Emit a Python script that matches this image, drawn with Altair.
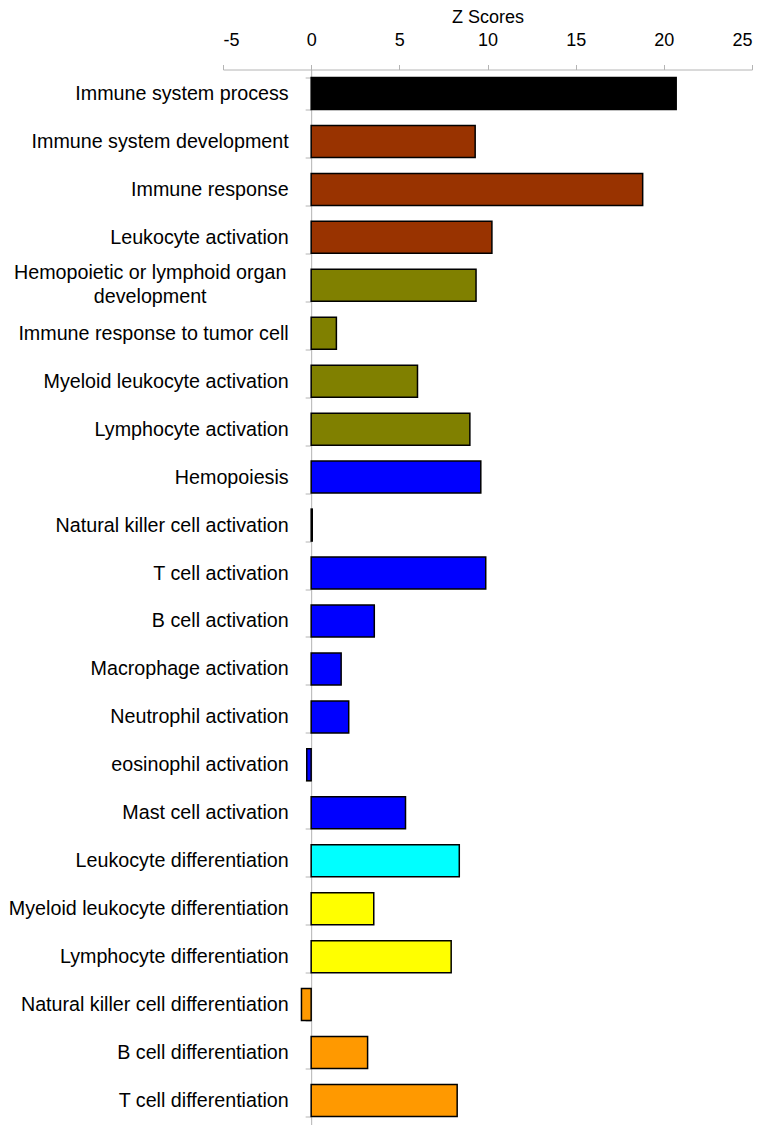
import altair as alt
import pandas as pd

categories = [
    "Immune system process",
    "Immune system development",
    "Immune response",
    "Leukocyte activation",
    "Hemopoietic or lymphoid organ|development",
    "Immune response to tumor cell",
    "Myeloid leukocyte activation",
    "Lymphocyte activation",
    "Hemopoiesis",
    "Natural killer cell activation",
    "T cell activation",
    "B cell activation",
    "Macrophage activation",
    "Neutrophil activation",
    "eosinophil activation",
    "Mast cell activation",
    "Leukocyte differentiation",
    "Myeloid leukocyte differentiation",
    "Lymphocyte differentiation",
    "Natural killer cell differentiation",
    "B cell differentiation",
    "T cell differentiation",
]

z_scores = [20.7, 9.3, 18.8, 10.25, 9.35, 1.43, 6.03, 9.0, 9.62, 0.06, 9.9, 3.58,
            1.7, 2.13, -0.25, 5.35, 8.4, 3.55, 7.94, -0.55, 3.2, 8.28]

groups = ["g1", "g2", "g2", "g2", "g3", "g3", "g3", "g3", "g4", "g4", "g4", "g4",
          "g4", "g4", "g4", "g4", "g5", "g6", "g6", "g7", "g7", "g7"]

group_names = ["g1", "g2", "g3", "g4", "g5", "g6", "g7"]
group_colors = ["#000000", "#993300", "#808000", "#0000FF", "#00FFFF", "#FFFF00", "#FF9900"]

x_ticks = [-5, 0, 5, 10, 15, 20, 25]

df = pd.DataFrame({"term": categories, "z": z_scores, "group": groups})

FONT = "Liberation Sans"
LABEL_SIZE = 19.7
GREY = "#b4b4b4"
W = 529
H = 1055
zero_offset = -(0 - x_ticks[0]) / (x_ticks[-1] - x_ticks[0]) * W

y_enc = alt.Y("term:N", sort=categories,
              scale=alt.Scale(paddingInner=0.333, paddingOuter=0.1667),
              axis=alt.Axis(orient="left", title=None, offset=zero_offset, grid=False,
                            domainColor=GREY, tickColor=GREY, tickSize=6, tickBand="extent",
                            labelFont=FONT, labelFontSize=LABEL_SIZE, labelColor="#000000",
                            labelLimit=400, labelPadding=17,
                            labelExpr="indexof(datum.label, '|') >= 0 ? '' : datum.label"))

bars = alt.Chart(df).mark_bar(stroke="#000000", strokeWidth=1.5).encode(
    x=alt.X("z:Q",
            scale=alt.Scale(domain=[x_ticks[0], x_ticks[-1]], nice=False, zero=False),
            axis=alt.Axis(orient="top", title="Z Scores", values=x_ticks, grid=False,
                          domainColor=GREY, tickColor=GREY, tickSize=5,
                          labelExpr="'' + datum.value",
                          labelFont=FONT, labelFontSize=18, labelColor="#000000",
                          labelPadding=15.5, titleFont=FONT, titleFontSize=18,
                          titleFontWeight="normal", titleColor="#000000", titlePadding=4.5)),
    y=y_enc,
    color=alt.Color("group:N", scale=alt.Scale(domain=group_names, range=group_colors), legend=None),
)

# the one wrapped category label, centred as in the original
wrapped = alt.Chart(df).transform_filter("indexof(datum.term, '|') >= 0").mark_text(
    align="center", baseline="middle", lineBreak="|", lineHeight=24, dy=-12,
    font=FONT, fontSize=LABEL_SIZE, color="#000000",
).encode(
    x=alt.value(-72.8),
    y=alt.Y("term:N", sort=categories),
    text="term:N",
)

chart = alt.layer(bars, wrapped).properties(
    width=W, height=H,
    autosize=alt.AutoSizeParams(type="none"),
    padding={"left": 215, "top": 61.5, "right": 8, "bottom": 6},
).configure_view(stroke=None)

chart.save("out.html", embed_options={"renderer": "svg", "actions": False})
